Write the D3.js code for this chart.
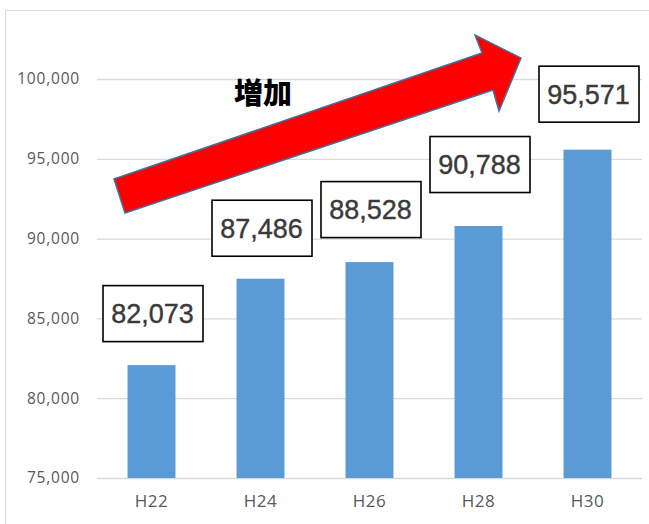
<!DOCTYPE html>
<html><head><meta charset="utf-8">
<script src="https://cdn.jsdelivr.net/npm/d3@7"></script>
<style>body{margin:0;background:#fff}svg{display:block}</style>
</head><body>
<svg id="c" width="649" height="524"></svg>
<script>
const categories = ["H22","H24","H26","H28","H30"];
const values = [82073, 87486, 88528, 90788, 95571];
const yTicks = [75000, 80000, 85000, 90000, 95000, 100000];
const annotation = "増加";

const svg = d3.select("#c");
const W = 649, H = 524;
const m = {left: 97, right: 7, top: 79, bottom: 46};

// chart frame
svg.append("rect").attr("x",5.5).attr("y",10.5).attr("width",W).attr("height",H)
  .attr("fill","none").attr("stroke","#d9d9d9").attr("stroke-width",1);

const x = d3.scaleBand().domain(categories).range([m.left, W - m.right]).paddingInner(0.56).paddingOuter(0.28);
const y = d3.scaleLinear().domain([75000, 100000]).range([H - m.bottom, m.top]);

// gridlines
svg.append("g").selectAll("line").data(yTicks).join("line")
  .attr("x1", m.left).attr("x2", W - m.right)
  .attr("y1", d => y(d) + 0.5).attr("y2", d => y(d) + 0.5)
  .attr("stroke","#d9d9d9").attr("stroke-width",1.3);

// y axis labels
const yAxis = d3.axisLeft(y).tickValues(yTicks).tickSize(0).tickPadding(17)
  .tickFormat(d3.format(","));
const gy = svg.append("g").attr("transform",`translate(${m.left},0)`).call(yAxis);
gy.select(".domain").remove();
gy.selectAll("text").attr("font-family","'Open Sans', 'Noto Sans', sans-serif")
  .attr("font-size",15.5).attr("letter-spacing","0.8px").attr("fill","#595959");

// x axis labels
const xAxis = d3.axisBottom(x).tickSize(0).tickPadding(17);
const gx = svg.append("g").attr("transform",`translate(0,${H - m.bottom})`).call(xAxis);
gx.select(".domain").remove();
gx.selectAll("text").attr("font-family","'Open Sans', 'Noto Sans', sans-serif")
  .attr("font-size",17).attr("letter-spacing","0.5px").attr("fill","#595959");

// bars
svg.append("g").selectAll("rect").data(values).join("rect")
  .attr("x", (d,i) => x(categories[i]))
  .attr("width", x.bandwidth())
  .attr("y", d => y(d))
  .attr("height", d => y(75000) - y(d))
  .attr("fill","#5B9BD5");

// arrow annotation
const arrowPts = [[114,179],[482,53],[475,35],[521,58],[499,111],[493,90],[125,213]];
svg.append("polygon").attr("points", arrowPts.map(p => p.join(",")).join(" "))
  .attr("fill","#FF0000").attr("stroke","#41719C").attr("stroke-width",1.5)
  .attr("stroke-linejoin","miter");

svg.append("text").attr("x",263).attr("y",104).attr("text-anchor","middle")
  .attr("font-family","'Noto Sans CJK JP', sans-serif").attr("font-weight",900)
  .attr("font-size",29).attr("fill","#000").text(annotation);

// data label boxes (manually placed above bars, as in the original)
const bw = 100, bh = 56;
const gaps = [24, 23, 25, 34, 28];
const lab = svg.append("g").selectAll("g").data(values).join("g")
  .attr("transform", (d,i) => `translate(${x(categories[i]) + x.bandwidth()/2 - bw/2 + 1},${y(d) - gaps[i] - bh})`);
lab.append("rect").attr("x",0.5).attr("y",0.5).attr("width",bw).attr("height",bh)
  .attr("fill","#fff").attr("stroke","#000").attr("stroke-width",1.6);
lab.append("text").attr("x",bw/2).attr("y",bh/2 + 10).attr("text-anchor","middle")
  .attr("font-family","'Liberation Sans', Arial, sans-serif").attr("font-size",27)
  .attr("fill","#3a3a3a").attr("stroke","#3a3a3a").attr("stroke-width",0.4)
  .text(d => d3.format(",")(d));
</script>
</body></html>
